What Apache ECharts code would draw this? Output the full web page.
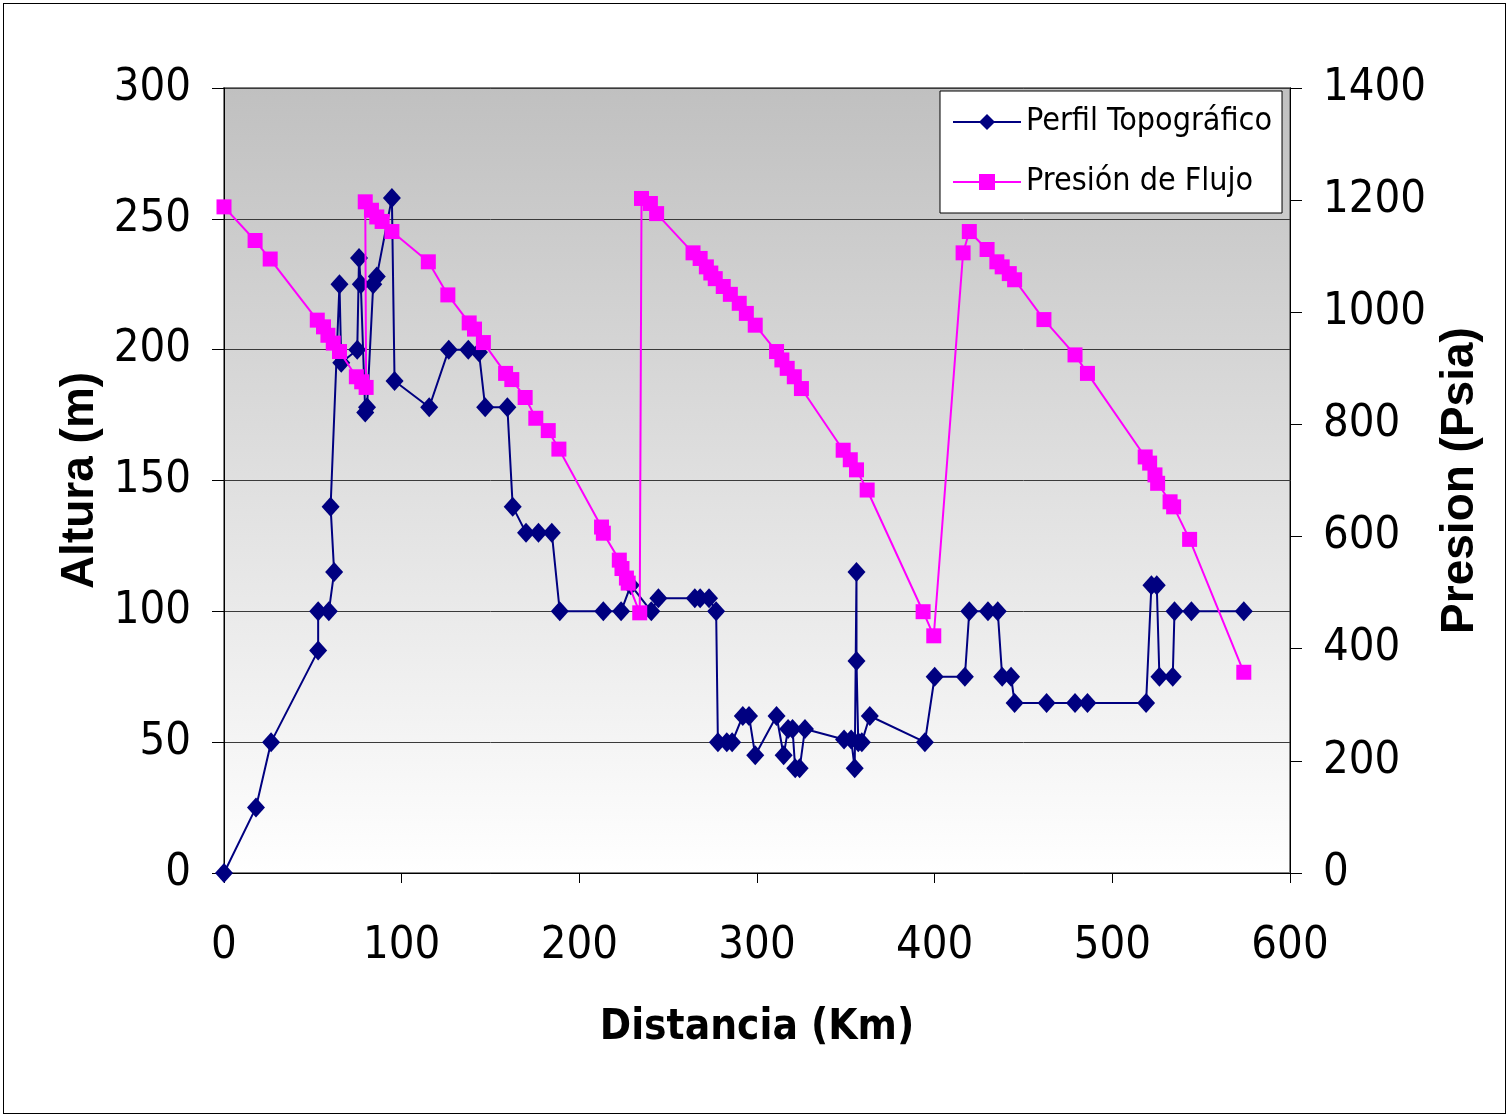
<!DOCTYPE html>
<html>
<head>
<meta charset="utf-8">
<script src="https://cdn.jsdelivr.net/npm/echarts@6/dist/echarts.min.js"></script>
<style>
  html, body { margin: 0; padding: 0; background: #fff; }
  #frame { position: absolute; left: 3px; top: 3px; width: 1501px; height: 1109px; border: 1px solid #000; }
  #chart { width: 1509px; height: 1116px; }
</style>
</head>
<body>
<div id="frame"></div>
<div id="chart"></div>
<script>
// Perfil topográfico: distancia (km) / altura (m)
const topoDist = [0, 18, 26.5, 53, 53, 59, 62, 60, 65, 66, 75, 76, 77, 79.5, 80.5, 84, 86, 94.5, 96, 115.5,
  126.5, 137.5, 143.5, 147, 159.5, 162.5, 170, 177, 184.5, 189, 213.5, 223.5, 229, 240.5, 244.5, 265, 268, 273,
  277, 278, 283, 286, 292, 295.5, 299, 311, 315, 317.5, 320, 321.5, 324, 327, 349, 353, 355, 356, 356, 357, 359,
  363.5, 394.5, 400, 417, 419.5, 430, 435.5, 438, 443, 445, 463, 479, 486, 519, 522, 525, 526.5, 534, 535, 544.5, 574];
const topoAlt = [0, 25, 50, 85, 100, 100, 115, 140, 225, 195, 200, 235, 225, 176, 178, 225, 228, 258, 188, 178,
  200, 200, 199, 178, 178, 140, 130, 130, 130, 100, 100, 100, 110, 100, 105, 105, 105, 105,
  100, 50, 50, 50, 60, 60, 45, 60, 45, 55, 55, 40, 40, 55, 51, 51, 40, 115, 81, 50, 50,
  60, 50, 75, 75, 100, 100, 100, 75, 75, 65, 65, 65, 65, 65, 110, 110, 75, 75, 100, 100, 100];

// Presión de flujo: distancia (km) / presión (psia)
const presDist = [0, 17.5, 26, 52.5, 56, 58.5, 61.5, 65, 74.5, 77.5, 80, 79.5, 83, 86, 89, 94.5, 115, 126, 138, 141,
  146, 158.5, 162, 169.5, 175.5, 182.5, 188.5, 212.5, 213.5, 222.5, 224, 226.5, 227.5, 234, 235, 240, 243.5,
  264, 268, 271.5, 274, 276.5, 281, 285, 290, 294, 299, 311, 314, 317, 321, 325, 348.5, 352.5, 356, 362,
  393.5, 399.5, 416, 419.5, 429.5, 435, 438, 442, 445, 461.5, 479, 486, 518.5, 521, 524, 525.5, 532.5, 534.5, 543.5, 574];
const presVal = [1188, 1128, 1095, 986, 974, 959, 945, 930, 885, 876, 866, 1197, 1182, 1170, 1162, 1144, 1090, 1031, 981, 970,
  946, 891, 880, 848, 811, 789, 756, 617, 606, 558, 543, 526, 517, 464, 1203, 1194, 1176,
  1106, 1096, 1081, 1070, 1060, 1046, 1032, 1016, 998, 977, 930, 915, 900, 885, 864, 754, 737, 719, 683,
  466, 423, 1106, 1144, 1112, 1090, 1081, 1069, 1058, 987, 924, 891, 742, 731, 710, 695, 662, 653, 595, 358];

// no narrow face installed by name, so ask for the condensed stretch of DejaVu Sans
const narrow = "'DejaVu Sans', sans-serif";
const wide = "'Liberation Sans', Arial, sans-serif";
const condensed = "normal condensed";
const condensedBold = "bold condensed";

const chart = echarts.init(document.getElementById("chart"));

chart.setOption({
  animation: false,
  backgroundColor: "transparent",
  textStyle: { fontFamily: narrow, color: "#000" },
  grid: {
    left: 224, right: 219, top: 88, bottom: 243,
    show: true,
    borderColor: "#808080",
    borderWidth: 2,
    backgroundColor: new echarts.graphic.LinearGradient(0, 0, 0, 1, [
      { offset: 0, color: "#c0c0c0" },
      { offset: 1, color: "#ffffff" },
    ]),
  },
  legend: {
    orient: "vertical",
    left: 940,
    top: 91,
    padding: [15, 10, 15, 12],
    itemGap: 28,
    itemWidth: 68,
    itemHeight: 20,
    backgroundColor: "#fff",
    borderColor: "#000",
    borderWidth: 1,
    textStyle: { fontFamily: narrow, fontWeight: condensed, fontSize: 32, color: "#000" },
    data: ["Perfil Topográfico", "Presión de Flujo"],
  },
  xAxis: {
    type: "value",
    min: 0,
    max: 600,
    interval: 100,
    name: "Distancia (Km)",
    nameLocation: "middle",
    nameGap: 134,
    nameTextStyle: { fontFamily: narrow, fontSize: 42, fontWeight: condensedBold, color: "#000" },
    axisLine: { show: true, lineStyle: { color: "#000", width: 1 } },
    axisTick: { show: true, length: 10, lineStyle: { color: "#000" } },
    axisLabel: { fontFamily: narrow, fontWeight: condensed, fontSize: 45, color: "#000", margin: 51 },
    splitLine: { show: false },
  },
  yAxis: [
    {
      type: "value",
      min: 0,
      max: 300,
      interval: 50,
      name: "Altura (m)",
      nameLocation: "middle",
      nameRotate: 90,
      nameGap: 116,
      nameTextStyle: { fontFamily: wide, fontSize: 46, fontWeight: "bold", color: "#000" },
      axisLine: { show: true, lineStyle: { color: "#000", width: 1 } },
      axisTick: { show: true, length: 12, lineStyle: { color: "#000" } },
      axisLabel: { fontFamily: narrow, fontWeight: condensed, fontSize: 45, color: "#000", margin: 33 },
      splitLine: { show: true, lineStyle: { color: "#3a3a3a", width: 1 } },
    },
    {
      type: "value",
      min: 0,
      max: 1400,
      interval: 200,
      position: "right",
      name: "Presion (Psia)",
      nameLocation: "middle",
      nameRotate: 90,
      nameGap: 132,
      nameTextStyle: { fontFamily: wide, fontSize: 46, fontWeight: "bold", color: "#000" },
      axisLine: { show: true, lineStyle: { color: "#000", width: 1 } },
      axisTick: { show: true, length: 12, lineStyle: { color: "#000" } },
      axisLabel: {
        fontFamily: narrow, fontWeight: condensed, fontSize: 45, color: "#000", margin: 33,
        formatter: (v) => String(v),
      },
      splitLine: { show: false },
    },
  ],
  series: [
    {
      name: "Perfil Topográfico",
      type: "line",
      yAxisIndex: 0,
      data: topoDist.map((d, i) => [d, topoAlt[i]]),
      symbol: "diamond",
      symbolSize: [18, 20],
      lineStyle: { color: "#000080", width: 2 },
      itemStyle: { color: "#000080" },
      z: 2,
    },
    {
      name: "Presión de Flujo",
      type: "line",
      yAxisIndex: 1,
      data: presDist.map((d, i) => [d, presVal[i]]),
      symbol: "rect",
      symbolSize: 15,
      lineStyle: { color: "#ff00ff", width: 2 },
      itemStyle: { color: "#ff00ff" },
      z: 3,
    },
  ],
});
</script>
</body>
</html>
